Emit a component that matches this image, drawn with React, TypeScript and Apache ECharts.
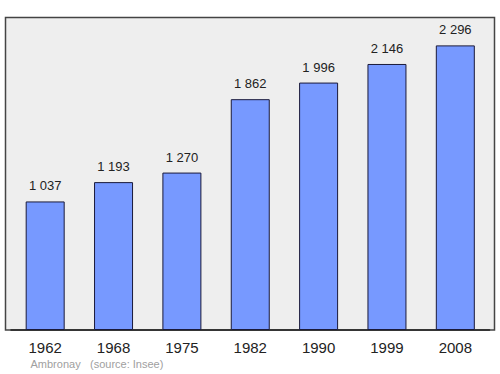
import React, { useEffect, useRef } from "react";
import * as echarts from "echarts";

const years = ["1962", "1968", "1975", "1982", "1990", "1999", "2008"];
const population = [1037, 1193, 1270, 1862, 1996, 2146, 2296];
const footerPlace = "Ambronay";
const footerSource = "(source: Insee)";

const fmt = (v: number) => String(v).replace(/\B(?=(\d{3})+(?!\d))/g, " ");

export default function App() {
  const ref = useRef<HTMLDivElement>(null);
  useEffect(() => {
    if (!ref.current) return;
    const chart = echarts.init(ref.current, undefined, { renderer: "svg" });
    const font = "Liberation Sans, Arial, sans-serif";
    chart.setOption({
      animation: false,
      backgroundColor: "#ffffff",
      graphic: [
        {
          type: "rect",
          z: -10,
          shape: { x: 5.5, y: 17.5, width: 489, height: 312.5 },
          style: { fill: "#eeeeee", stroke: "#444444", lineWidth: 1.5 },
          silent: true,
        },
        {
          type: "text",
          x: 30.5,
          y: 364,
          style: { text: footerPlace, fill: "#a0a0a0", fontSize: 11, fontFamily: font, verticalAlign: "middle" },
        },
        {
          type: "text",
          x: 90,
          y: 364,
          style: { text: footerSource, fill: "#a0a0a0", fontSize: 11, fontFamily: font, verticalAlign: "middle" },
        },
      ],
      grid: { left: 11, right: 10.5, top: 17, bottom: 44, containLabel: false },
      xAxis: {
        type: "category",
        data: years,
        axisLine: { show: true, lineStyle: { color: "#222222", width: 1.5 } },
        axisTick: { show: false },
        axisLabel: {
          color: "#222222",
          fontSize: 15,
          margin: 10,
          fontFamily: font,
        },
      },
      yAxis: {
        type: "value",
        min: 0,
        max: 2525,
        show: false,
        splitLine: { show: false },
      },
      series: [
        {
          type: "bar",
          data: population,
          barWidth: 39,
          itemStyle: { color: "#7799ff", borderColor: "#1a1a3a", borderWidth: 1 },
          label: {
            show: true,
            position: "top",
            distance: 9,
            color: "#222222",
            fontSize: 13,
            fontFamily: font,
            formatter: (p: any) => fmt(p.value),
          },
        },
      ],
    });
    return () => chart.dispose();
  }, []);
  return <div ref={ref} style={{ width: 500, height: 374, position: "absolute", left: 0, top: 0 }} />;
}
